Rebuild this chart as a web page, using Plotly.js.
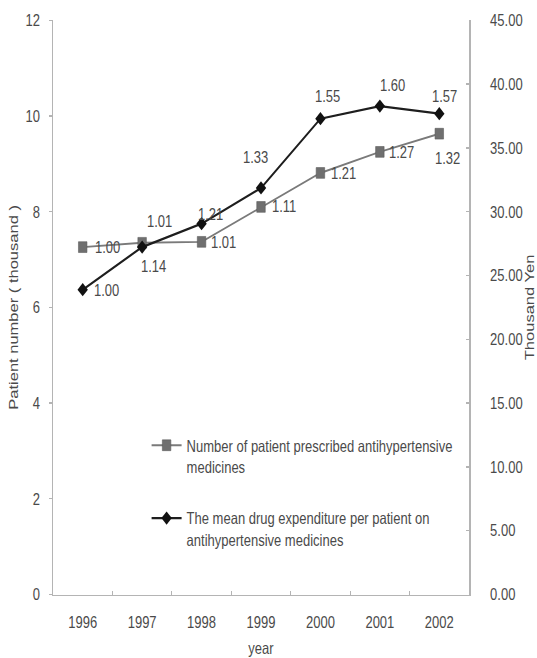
<!DOCTYPE html>
<html>
<head>
<meta charset="utf-8">
<script src="https://cdn.plot.ly/plotly-3.0.1.min.js"></script>
<style>
  html, body { margin: 0; padding: 0; background: #ffffff; overflow: hidden; }
  #frame { width: 537px; height: 658px; overflow: hidden; }
  /* the figure is laid out at 537x518 and stretched to the full height */
  #chart { width: 537px; height: 518px; transform: scaleY(1.2703); transform-origin: 0 0; }
</style>
</head>
<body>
<div id="frame"><div id="chart"></div></div>
<script>
// Years on the category axis
const years = ['1996', '1997', '1998', '1999', '2000', '2001', '2002'];

// Patients prescribed antihypertensive medicines (thousand) - left axis
const patients = [7.26, 7.35, 7.37, 8.10, 8.81, 9.25, 9.63];
// Ratio to 1996 printed next to each square
const patientRatio = ['1.00', '1.01', '1.01', '1.11', '1.21', '1.27', '1.32'];

// Mean drug expenditure per patient (thousand yen) - right axis
const expenditure = [23.89, 27.23, 29.06, 31.86, 37.29, 38.28, 37.68];
// Ratio to 1996 printed next to each diamond
const expenditureRatio = ['1.00', '1.14', '1.21', '1.33', '1.55', '1.60', '1.57'];

// Series names shown in the legend
const patientName = 'Number of patient prescribed antihypertensive<br>medicines';
const expenditureName = 'The mean drug expenditure per patient on<br>antihypertensive medicines';

// Pixel offsets of each ratio label from its marker [dx, dy] (dy downwards)
const patientLabelShift = [[25, 0], [17, -16.5], [22, 0], [23, 0], [23, 0], [22, 0], [8, 19]];
const expenditureLabelShift = [[24, 0], [11, 15], [9, -8], [-6, -24.5], [7, -18], [13, -16.5], [5, -14]];

const FONT = 'Liberation Sans, Arial, Helvetica, sans-serif';
const TEXT = '#4a4a4a';
const AXIS = '#b4b4b4';

const traces = [
  {
    type: 'scatter', mode: 'lines+markers',
    x: years, y: patients, yaxis: 'y',
    name: patientName, legendgroup: 'patients',
    line: { color: '#7a7a7a', width: 1.5 },
    marker: { symbol: 'square', size: 8.5, color: '#6f6f6f', line: { color: '#5a5a5a', width: 0.5 } },
    hoverinfo: 'x+y'
  },
  {
    type: 'scatter', mode: 'lines+markers',
    x: years, y: expenditure, yaxis: 'y2',
    name: expenditureName, legendgroup: 'expenditure',
    line: { color: '#1e1e1e', width: 1.8 },
    marker: { symbol: 'diamond', size: 8, color: '#111111' },
    hoverinfo: 'x+y'
  }
];

// Ratio labels, positioned on the category index of each year
const annotations = [];
function addLabels(values, labels, shifts, yref) {
  values.forEach((v, i) => {
    annotations.push({
      x: i, y: v, xref: 'x', yref: yref,
      text: labels[i], showarrow: false,
      xshift: shifts[i][0], yshift: -shifts[i][1],
      font: { family: FONT, size: 13, color: TEXT }
    });
  });
}
addLabels(patients, patientRatio, patientLabelShift, 'y');
addLabels(expenditure, expenditureRatio, expenditureLabelShift, 'y2');

const layout = {
  width: 537, height: 518,
  margin: { l: 53, r: 68, t: 16, b: 50 },
  paper_bgcolor: '#ffffff', plot_bgcolor: '#ffffff',
  font: { family: FONT, size: 13, color: TEXT },
  showlegend: true,
  legend: {
    x: 0.225, y: 0.293, xanchor: 'left', yanchor: 'top',
    bgcolor: 'rgba(0,0,0,0)',
    font: { family: FONT, size: 13, color: TEXT },
    valign: 'top', tracegroupgap: 20.5, itemwidth: 30
  },
  xaxis: {
    type: 'category', range: [-0.5, 6.5],
    showline: true, linecolor: AXIS, linewidth: 1.5,
    showgrid: false, zeroline: false,
    ticks: 'inside', tickson: 'boundaries', ticklen: 3, tickcolor: AXIS,
    tickfont: { family: FONT, size: 13, color: TEXT },
    ticklabelstandoff: 9,
    title: { text: 'year', font: { family: FONT, size: 13, color: TEXT }, standoff: 16 },
    fixedrange: true
  },
  yaxis: {
    range: [0, 12], dtick: 2,
    showline: true, linecolor: AXIS, linewidth: 1.5,
    showgrid: false, zeroline: false,
    ticks: 'outside', ticklen: 3, tickcolor: AXIS,
    tickfont: { family: FONT, size: 13, color: TEXT },
    ticklabelstandoff: 6,
    title: { text: 'Patient number ( thousand )', font: { family: FONT, size: 13, color: TEXT }, standoff: 4 },
    fixedrange: true
  },
  yaxis2: {
    overlaying: 'y', side: 'right',
    range: [0, 45], dtick: 5, tickformat: '.2f',
    showline: true, linecolor: AXIS, linewidth: 1.5,
    showgrid: false, zeroline: false,
    ticks: 'inside', ticklen: 3, tickcolor: AXIS,
    tickfont: { family: FONT, size: 13, color: TEXT },
    ticklabelstandoff: 17,
    title: { text: 'Thousand Yen', font: { family: FONT, size: 13, color: TEXT }, standoff: 7 },
    fixedrange: true
  },
  annotations: annotations
};

Plotly.newPlot('chart', traces, layout, { displayModeBar: false, staticPlot: true });
</script>
</body>
</html>
